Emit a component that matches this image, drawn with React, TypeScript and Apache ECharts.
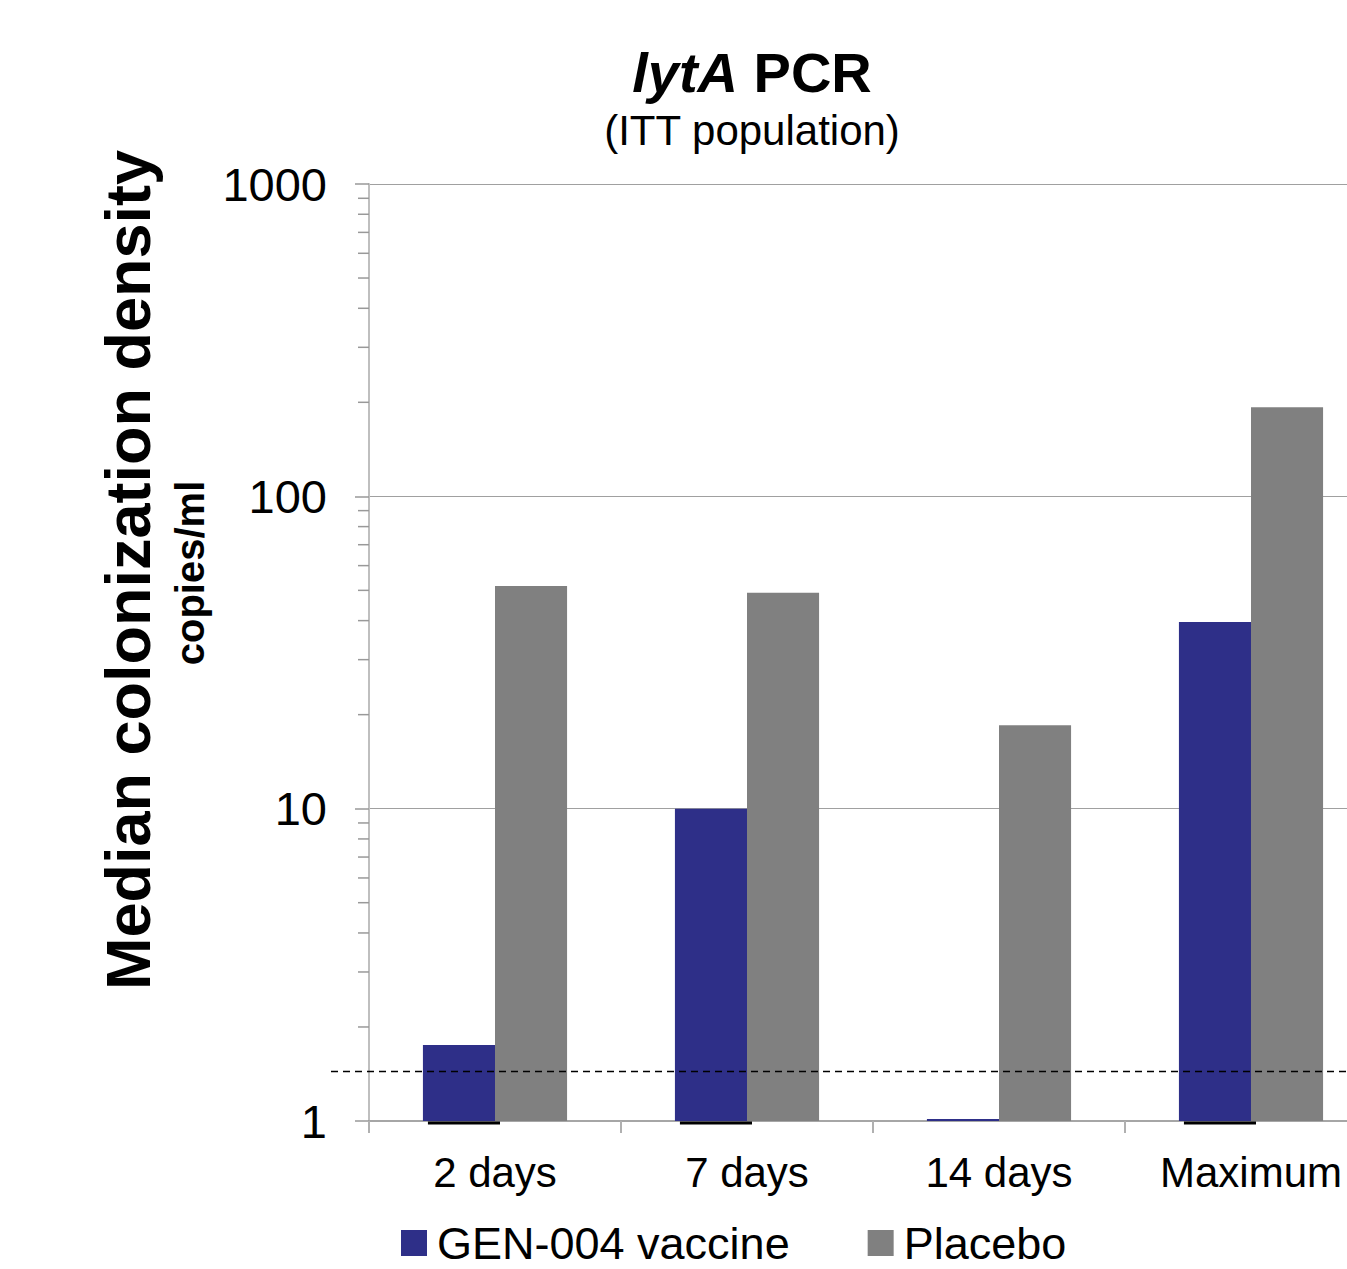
import React, { useEffect, useRef } from "react";
import * as echarts from "echarts";

const categories = ["2 days", "7 days", "14 days", "Maximum"];
const vaccineName = "GEN-004 vaccine";
const placeboName = "Placebo";
const vaccine = [1.75, 10, 1, 39.6];
const placebo = [51.6, 49.1, 18.5, 193];
const minorTickValues = [2, 3, 4, 5, 6, 7, 8, 9, 20, 30, 40, 50, 60, 70, 80, 90, 200, 300, 400, 500, 600, 700, 800, 900];
const lloq = 1.44;

const FONT = "'Liberation Sans', Arial, sans-serif";
const BLUE = "#2E2F88";
const GRAY = "#808080";

export default function App() {
  const ref = useRef<HTMLDivElement>(null);
  useEffect(() => {
    if (!ref.current) return;
    const chart = echarts.init(ref.current, null, { renderer: "svg" });
    const shadowData = vaccine
      .map((v, i) => [i, v])
      .filter((d) => d[1] > 1);
    chart.setOption({
      animation: false,
      backgroundColor: "#ffffff",
      textStyle: { fontFamily: FONT },
      grid: { left: 369, top: 184, width: 1008, height: 937, containLabel: false },
      legend: {
        data: [vaccineName, placeboName],
        left: 401,
        top: 1219,
        padding: 0,
        icon: "rect",
        itemWidth: 26,
        itemHeight: 26,
        itemGap: 78,
        textStyle: { fontSize: 45, color: "#000", fontFamily: FONT, lineHeight: 48, padding: [0, 0, 0, 5] },
      },
      xAxis: {
        type: "category",
        data: categories,
        axisLine: { lineStyle: { color: "#a6a6a6", width: 2 } },
        axisTick: { show: true, length: 12, lineStyle: { color: "#b0b0b0", width: 2 } },
        axisLabel: { fontSize: 42, color: "#000", margin: 30, fontFamily: FONT },
        splitLine: { show: false },
      },
      yAxis: {
        type: "log",
        logBase: 10,
        min: 1,
        max: 1000,
        axisLine: { show: true, lineStyle: { color: "#bfbfbf", width: 2 } },
        axisTick: { show: true, length: 14, lineStyle: { color: "#999999", width: 1.5 } },
        axisLabel: {
          fontSize: 47,
          color: "#000",
          margin: 42,
          fontFamily: FONT,
          formatter: (v: number) => String(Math.round(v)),
        },
        splitLine: { show: true, lineStyle: { color: "#a0a0a0", width: 1 } },
      },
      series: [
        {
          name: vaccineName,
          type: "bar",
          data: vaccine,
          barWidth: "28.6%",
          barGap: "0%",
          barMinHeight: 2,
          itemStyle: { color: BLUE },
          z: 3,
        },
        {
          name: placeboName,
          type: "bar",
          data: placebo,
          barWidth: "28.6%",
          barGap: "0%",
          itemStyle: { color: GRAY },
          z: 3,
        },
        {
          name: "minorTicks",
          type: "custom",
          data: minorTickValues.map((v) => [0, v]),
          encode: { x: 0, y: 1 },
          clip: false,
          silent: true,
          z: 4,
          renderItem: (params: any, api: any) => {
            const p = api.coord([0, api.value(1)]);
            const cs = params.coordSys;
            return {
              type: "line",
              shape: { x1: cs.x - 11, y1: p[1], x2: cs.x, y2: p[1] },
              style: { stroke: "#999999", lineWidth: 1.5 },
            };
          },
        },
        {
          name: "barShadow",
          type: "custom",
          data: shadowData,
          encode: { x: 0, y: 1 },
          clip: false,
          silent: true,
          z: 2,
          renderItem: (params: any, api: any) => {
            const c = api.coord([api.value(0), 1]);
            const band = api.size([1, 0])[0];
            const w = band * 0.286;
            return {
              type: "line",
              shape: { x1: c[0] - w + 5, y1: c[1] + 2, x2: c[0] + 5, y2: c[1] + 2 },
              style: { stroke: "#000000", lineWidth: 3 },
            };
          },
        },
        {
          name: "lloq",
          type: "custom",
          data: [[0, lloq]],
          encode: { x: 0, y: 1 },
          clip: false,
          silent: true,
          z: 5,
          renderItem: (params: any, api: any) => {
            const p = api.coord([0, api.value(1)]);
            const cs = params.coordSys;
            return {
              type: "line",
              shape: { x1: cs.x - 38, y1: p[1], x2: cs.x + cs.width, y2: p[1] },
              style: { stroke: "#000000", lineWidth: 1.5, lineDash: [7, 5] },
            };
          },
        },
      ],
      graphic: [
        {
          type: "text",
          x: 752,
          y: 72,
          style: {
            text: "{i|lytA}{b| PCR}",
            align: "center",
            verticalAlign: "middle",
            rich: {
              i: { fontSize: 56, fontWeight: "bold", fontStyle: "italic", fontFamily: FONT, fill: "#000" },
              b: { fontSize: 56, fontWeight: "bold", fontFamily: FONT, fill: "#000" },
            },
          },
        },
        {
          type: "text",
          x: 752,
          y: 130,
          style: {
            text: "(ITT population)",
            align: "center",
            verticalAlign: "middle",
            fontSize: 42,
            fontFamily: FONT,
            fill: "#000",
          },
        },
        {
          type: "text",
          x: 128,
          y: 570,
          rotation: Math.PI / 2,
          style: {
            text: "Median colonization density",
            align: "center",
            verticalAlign: "middle",
            fontSize: 63,
            fontWeight: "bold",
            fontFamily: FONT,
            fill: "#000",
          },
        },
        {
          type: "text",
          x: 190,
          y: 573,
          rotation: Math.PI / 2,
          style: {
            text: "copies/ml",
            align: "center",
            verticalAlign: "middle",
            fontSize: 40,
            fontWeight: "bold",
            fontFamily: FONT,
            fill: "#000",
          },
        },
      ],
    });
    return () => chart.dispose();
  }, []);
  return (
    <div style={{ position: "absolute", left: 0, top: 0, width: 1347, height: 1269, overflow: "hidden" }}>
      <div ref={ref} style={{ width: 1400, height: 1269 }} />
    </div>
  );
}
